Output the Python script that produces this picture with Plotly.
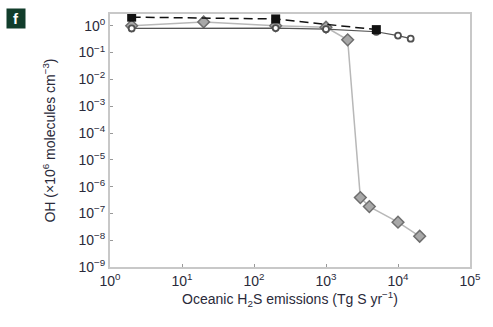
import plotly.graph_objects as go

# Data
sq_x = [2, 200, 5000]
sq_y = [2.1, 1.8, 0.72]

circ_x = [2, 200, 1000, 5000, 10000, 15000]
circ_y = [0.8, 0.82, 0.75, 0.6, 0.43, 0.33]

dia_x = [2, 20, 200, 1000, 2000, 3000, 4000, 10000, 20000]
dia_y = [1.0, 1.4, 1.0, 0.88, 0.3, 3.9e-7, 1.8e-7, 4.7e-8, 1.4e-8]

x_tickvals = [1, 10, 100, 1000, 10000, 100000]
x_ticktext = ["10<sup>0</sup>", "10<sup>1</sup>", "10<sup>2</sup>", "10<sup>3</sup>", "10<sup>4</sup>", "10<sup>5</sup>"]
y_tickvals = [1e-9, 1e-8, 1e-7, 1e-6, 1e-5, 1e-4, 1e-3, 1e-2, 1e-1, 1]
y_ticktext = ["10<sup>−9</sup>", "10<sup>−8</sup>", "10<sup>−7</sup>", "10<sup>−6</sup>", "10<sup>−5</sup>",
              "10<sup>−4</sup>", "10<sup>−3</sup>", "10<sup>−2</sup>", "10<sup>−1</sup>", "10<sup>0</sup>"]

font_fam = "Liberation Sans Narrow, Liberation Sans, Arial, sans-serif"
txt_col = "#2a2a3a"

fig = go.Figure()
fig.add_trace(go.Scatter(
    x=dia_x, y=dia_y, mode="lines+markers",
    line=dict(color="#b8b8b8", width=1.5),
    marker=dict(symbol="diamond", size=9, color="#a8a8a8", line=dict(color="#6e6e6e", width=1.5)),
))
fig.add_trace(go.Scatter(
    x=circ_x, y=circ_y, mode="lines+markers",
    line=dict(color="#555555", width=1.2),
    marker=dict(symbol="circle", size=6, color="white", line=dict(color="#505050", width=1.8)),
))
fig.add_trace(go.Scatter(
    x=sq_x, y=sq_y, mode="lines+markers",
    line=dict(color="#111111", width=1.5, dash="9px,5px"),
    marker=dict(symbol="square", size=9, color="#111111"),
))

fig.update_layout(
    width=493, height=327,
    margin=dict(l=110, r=17, t=12, b=60),
    paper_bgcolor="white", plot_bgcolor="white",
    showlegend=False,
    font=dict(family=font_fam, color=txt_col, size=14),
    xaxis=dict(
        type="log", range=[0, 5],
        tickvals=x_tickvals, ticktext=x_ticktext,
        ticks="inside", ticklen=3, tickcolor="#999999",
        showgrid=False, zeroline=False,
        showline=True, linecolor="#c8c8c8", linewidth=2, mirror=True,
        title=dict(text="Oceanic H<sub>2</sub>S emissions (Tg S yr<sup>−1</sup>)", font=dict(size=14), standoff=6),
        tickfont=dict(size=14),
    ),
    yaxis=dict(
        type="log", range=[-9, 0.44],
        tickvals=y_tickvals, ticktext=y_ticktext,
        ticks="inside", ticklen=3, tickcolor="#999999",
        showgrid=False, zeroline=False,
        showline=True, linecolor="#c8c8c8", linewidth=2, mirror=True,
        title=dict(text="OH (×10<sup>6</sup> molecules cm<sup>−3</sup>)", font=dict(size=14), standoff=20),
        tickfont=dict(size=14),
    ),
)

fig.add_annotation(xref="paper", yref="paper", x=-96/366, y=1 + 6/255,
                   xanchor="center", yanchor="top",
                   text="<b>f</b>", showarrow=False,
                   bgcolor="#113d2b", borderpad=1, width=16, height=17,
                   font=dict(color="white", size=15, family="Liberation Sans"))

fig.write_html("out.html")
